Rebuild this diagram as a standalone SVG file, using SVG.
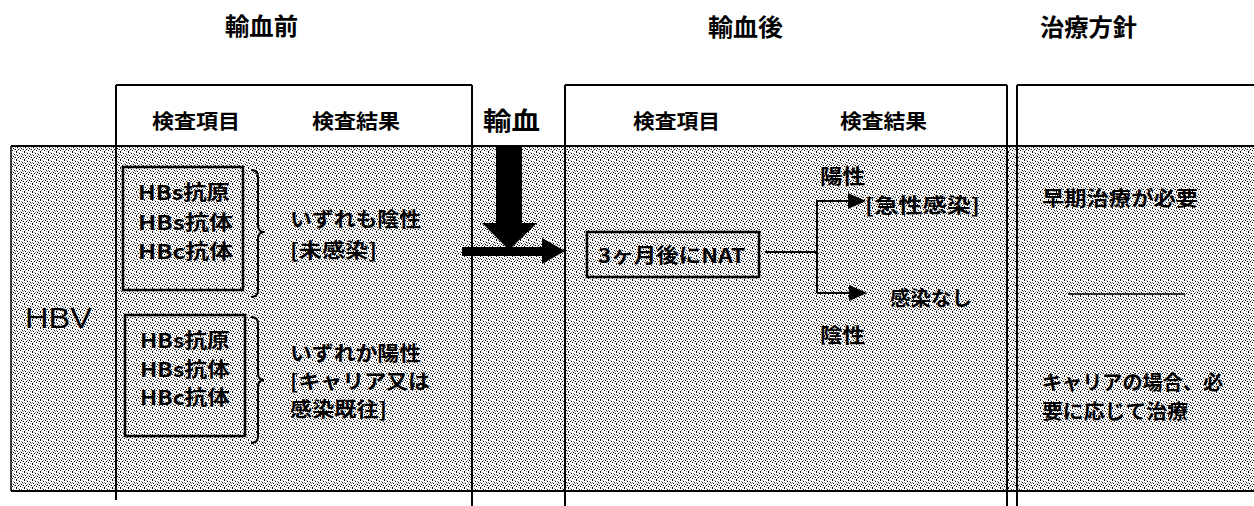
<svg xmlns="http://www.w3.org/2000/svg" width="1254" height="506" viewBox="0 0 1254 506">
<style>
.jp{font-family:"Noto Sans CJK JP","Noto Sans",sans-serif;font-weight:bold;fill:#000;dominant-baseline:central}
.ln{stroke:#000;stroke-width:2;fill:none}
.thin{stroke:#000;stroke-width:1.5;fill:none}
.box{stroke:#000;stroke-width:2.5;fill:none}
.brace{stroke:#000;stroke-width:2;fill:none}
.head{fill:#000}
</style>
<defs>
<pattern id="dots" width="8" height="8" patternUnits="userSpaceOnUse">
<rect width="8" height="8" fill="#ffffff"/>
<path fill="#000" d="M0 0h1v1h-1z M3 1h1v1h-1z M6 2h1v1h-1z M1 3h1v1h-1z M5 4h1v1h-1z M2 5h1v1h-1z M7 5h1v1h-1z M4 6h1v1h-1z M0 7h1v1h-1z"/>
<path fill="#999" d="M2 0h1v1h-1z M5 1h1v1h-1z M0 2h1v1h-1z M4 3h1v1h-1z M7 3h1v1h-1z M3 4h1v1h-1z M6 5h1v1h-1z M1 6h1v1h-1z M6 7h1v1h-1z"/>
</pattern>
</defs>

<rect width="1254" height="506" fill="#fff"/>

<g id="table">
<rect x="11" y="146" width="1243" height="345" fill="url(#dots)"/>
<path class="ln" d="M116 85H472 M565 85H1007 M1017 85H1254 M11 146H1254 M11 491H1254"/>
<path class="thin" d="M11 146V491"/>
<path class="ln" d="M116 85V500 M472 85V506 M565 85V506 M1007 85V506 M1017 85V506"/>
</g>

<g id="titles">
<text class="jp" x="225" y="24" font-size="24" textLength="73" lengthAdjust="spacingAndGlyphs">輸血前</text>
<text class="jp" x="708" y="25" font-size="24" textLength="75" lengthAdjust="spacingAndGlyphs">輸血後</text>
<text class="jp" x="1040" y="25" font-size="24" textLength="97" lengthAdjust="spacingAndGlyphs">治療方針</text>
</g>

<g id="headers">
<text class="jp" x="152" y="120" font-size="20" textLength="88" lengthAdjust="spacingAndGlyphs">検査項目</text>
<text class="jp" x="312" y="120" font-size="20" textLength="88" lengthAdjust="spacingAndGlyphs">検査結果</text>
<text class="jp" x="483" y="119" font-size="25" textLength="57" lengthAdjust="spacingAndGlyphs">輸血</text>
<text class="jp" x="633" y="120" font-size="20" textLength="87" lengthAdjust="spacingAndGlyphs">検査項目</text>
<text class="jp" x="840" y="120" font-size="20" textLength="87" lengthAdjust="spacingAndGlyphs">検査結果</text>
</g>

<g id="hbv-label">
<text x="25" y="328" font-family="'Liberation Sans',Arial,sans-serif" font-size="29" textLength="67" lengthAdjust="spacingAndGlyphs">HBV</text>
</g>

<g id="box-negative">
<rect class="box" x="123" y="167" width="120" height="123"/>
<text class="jp" x="138" y="191" font-size="20" textLength="92" lengthAdjust="spacingAndGlyphs">HBs抗原</text>
<text class="jp" x="138" y="221" font-size="20" textLength="95" lengthAdjust="spacingAndGlyphs">HBs抗体</text>
<text class="jp" x="138" y="250" font-size="20" textLength="95" lengthAdjust="spacingAndGlyphs">HBc抗体</text>
<path class="brace" d="M251 170Q258 170 258 177V225Q258 232 264 232Q258 232 258 239V290Q258 297 251 297"/>
</g>

<g id="result-negative">
<text class="jp" x="290" y="218" font-size="20" textLength="131" lengthAdjust="spacingAndGlyphs">いずれも陰性</text>
<text class="jp" x="290" y="249" font-size="20" textLength="87" lengthAdjust="spacingAndGlyphs">[未感染]</text>
</g>

<g id="box-positive">
<rect class="box" x="125" y="315" width="120" height="121"/>
<text class="jp" x="140" y="339" font-size="20" textLength="90" lengthAdjust="spacingAndGlyphs">HBs抗原</text>
<text class="jp" x="140" y="368" font-size="20" textLength="90" lengthAdjust="spacingAndGlyphs">HBs抗体</text>
<text class="jp" x="140" y="396" font-size="20" textLength="90" lengthAdjust="spacingAndGlyphs">HBc抗体</text>
<path class="brace" d="M251 317Q258 317 258 324V373Q258 380 264 380Q258 380 258 387V436Q258 443 251 443"/>
</g>

<g id="result-positive">
<text class="jp" x="290" y="352" font-size="20" textLength="131" lengthAdjust="spacingAndGlyphs">いずれか陽性</text>
<text class="jp" x="290" y="380" font-size="20" textLength="140" lengthAdjust="spacingAndGlyphs">[キャリア又は</text>
<text class="jp" x="290" y="408" font-size="20" textLength="97" lengthAdjust="spacingAndGlyphs">感染既往]</text>
</g>

<g id="box-nat">
<rect class="box" x="587" y="232" width="172" height="45"/>
<text class="jp" x="598" y="254" font-size="20" textLength="147" lengthAdjust="spacingAndGlyphs">3ヶ月後にNAT</text>
</g>

<g id="label-positive">
<text class="jp" x="820" y="175" font-size="20" textLength="45" lengthAdjust="spacingAndGlyphs">陽性</text>
<text class="jp" x="865" y="204" font-size="20" textLength="115" lengthAdjust="spacingAndGlyphs">[急性感染]</text>
</g>

<g id="label-negative">
<text class="jp" x="890" y="297" font-size="20" textLength="82" lengthAdjust="spacingAndGlyphs">感染なし</text>
<text class="jp" x="820" y="334" font-size="20" textLength="45" lengthAdjust="spacingAndGlyphs">陰性</text>
</g>

<g id="treatment">
<text class="jp" x="1042" y="197" font-size="20" textLength="156" lengthAdjust="spacingAndGlyphs">早期治療が必要</text>
<path class="thin" d="M1068 294H1185"/>
<text class="jp" x="1042" y="381" font-size="20" textLength="181" lengthAdjust="spacingAndGlyphs">キャリアの場合、必</text>
<text class="jp" x="1042" y="410" font-size="20" textLength="146" lengthAdjust="spacingAndGlyphs">要に応じて治療</text>
</g>

<g id="connectors">
<polygon points="462,247 542,247 542,238 565,251 542,264 542,256 462,256" fill="#000"/>
<polygon points="496,147 522,147 522,223 537,223 509,250 482,223 496,223" fill="#000"/>
<path class="ln" d="M765 252H817 M817 201V293 M817 201H850 M817 293H851"/>
<polygon class="head" points="848,193 866,201 848,209"/>
<polygon class="head" points="849,285 867,293 849,301"/>
</g>
</svg>
